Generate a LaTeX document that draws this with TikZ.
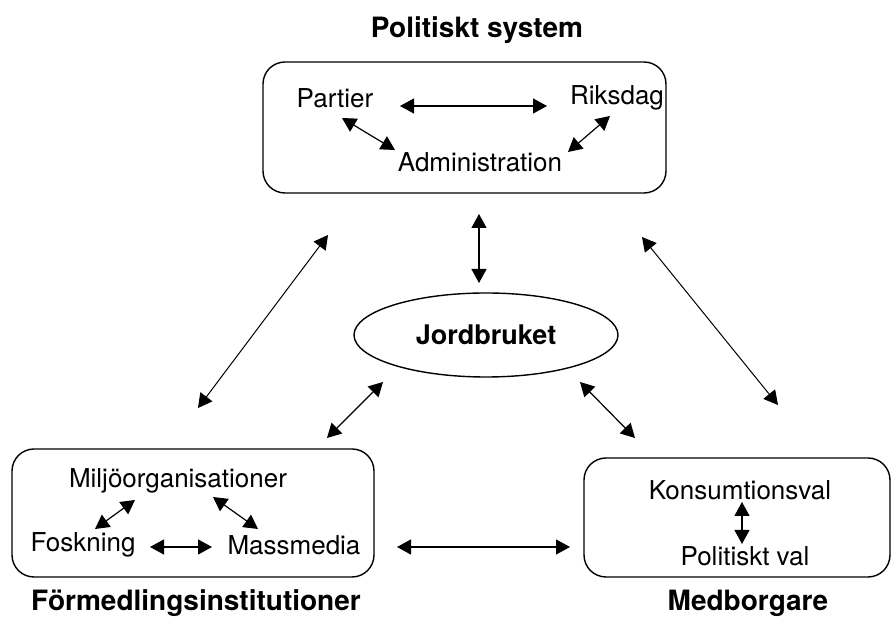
\documentclass[tikz,border=0pt]{standalone}
\usepackage{fontspec}
\setmainfont{TeX Gyre Heros}
\usepackage{tikz}
\usetikzlibrary{arrows.meta}
\usetikzlibrary{shapes.geometric}

\tikzset{
  box/.style={draw, line width=0.7pt, rounded corners=11pt, inner sep=0pt},
  txt/.style={inner sep=1pt, font=\fontsize{13}{15}\selectfont},
  head/.style={inner sep=1pt, font=\fontsize{14}{16}\selectfont\bfseries},
  dbl/.style={line width=0.6pt, {Triangle[length=7pt,width=7.5pt]}-{Triangle[length=7pt,width=7.5pt]}},
  lng/.style={line width=0.5pt, {Triangle[length=7pt,width=7.5pt]}-{Triangle[length=7pt,width=7.5pt]}}
}

\begin{document}
\begin{tikzpicture}[x=0.5pt, y=-0.5pt]
\useasboundingbox (0,0) rectangle (891,619);
% draws boxes
\node[box, minimum width=201.5pt, minimum height=65.5pt] (pol) at (464.5,127.5) {};
\node[box, minimum width=181pt, minimum height=64pt] (form) at (193,513) {};
\node[box, minimum width=153pt, minimum height=59.5pt] (medb) at (737,517.5) {};
\node[draw, ellipse, line width=0.7pt, minimum width=132pt, minimum height=42pt,
  font=\fontsize{13.5}{15}\selectfont\bfseries] (jord) at (486,335) {Jordbruket};
% labels boxes
\node[head] (poltitle) at (477,30) {Politiskt system};
\node[head] (formtitle) at (196,603) {Förmedlingsinstitutioner};
\node[head] (medbtitle) at (748,603) {Medborgare};
% labels actors
\node[txt] (partier) at (335,98) {Partier};
\node[txt] (riksdag) at (617,98) {Riksdag};
\node[txt] (admin) at (480,162) {Administration};
\node[txt] (miljo) at (178,481) {Miljöorganisationer};
\node[txt] (fosk) at (83,545) {Foskning};
\node[txt] (mass) at (294,545) {Massmedia};
\node[txt] (kons) at (740,490) {Konsumtionsval};
\node[txt] (polval) at (745,556) {Politiskt val};
% arrow ends
\coordinate (pr1) at (400,106);
\coordinate (pr2) at (547,106);
\coordinate (pa1) at (342,118);
\coordinate (pa2) at (395,150);
\coordinate (ra1) at (610,116);
\coordinate (ra2) at (568,152);
\coordinate (pj1) at (479,214);
\coordinate (pj2) at (479,283);
\coordinate (pf1) at (328,235);
\coordinate (pf2) at (198,408);
\coordinate (pm1) at (642,237);
\coordinate (pm2) at (778,405);
\coordinate (jf1) at (383,382);
\coordinate (jf2) at (327,438);
\coordinate (jm1) at (580,382);
\coordinate (jm2) at (635,438);
\coordinate (fm1) at (397,547);
\coordinate (fm2) at (570,547);
\coordinate (kp1) at (742,502);
\coordinate (kp2) at (742,544);
\coordinate (fo1) at (95,529);
\coordinate (fo2) at (135,500);
\coordinate (mm1) at (213,497);
\coordinate (mm2) at (258,529);
\coordinate (fs1) at (150,547);
\coordinate (fs2) at (212,547);
% draws edges
\draw[dbl] (pr1) -- (pr2);
\draw[dbl] (pa1) -- (pa2);
\draw[dbl] (ra1) -- (ra2);
\draw[dbl] (pj1) -- (pj2);
\draw[lng] (pf1) -- (pf2);
\draw[lng] (pm1) -- (pm2);
\draw[dbl] (jf1) -- (jf2);
\draw[dbl] (jm1) -- (jm2);
\draw[dbl] (fm1) -- (fm2);
\draw[dbl] (kp1) -- (kp2);
\draw[dbl] (fo1) -- (fo2);
\draw[dbl] (mm1) -- (mm2);
\draw[dbl] (fs1) -- (fs2);
\end{tikzpicture}
\end{document}
